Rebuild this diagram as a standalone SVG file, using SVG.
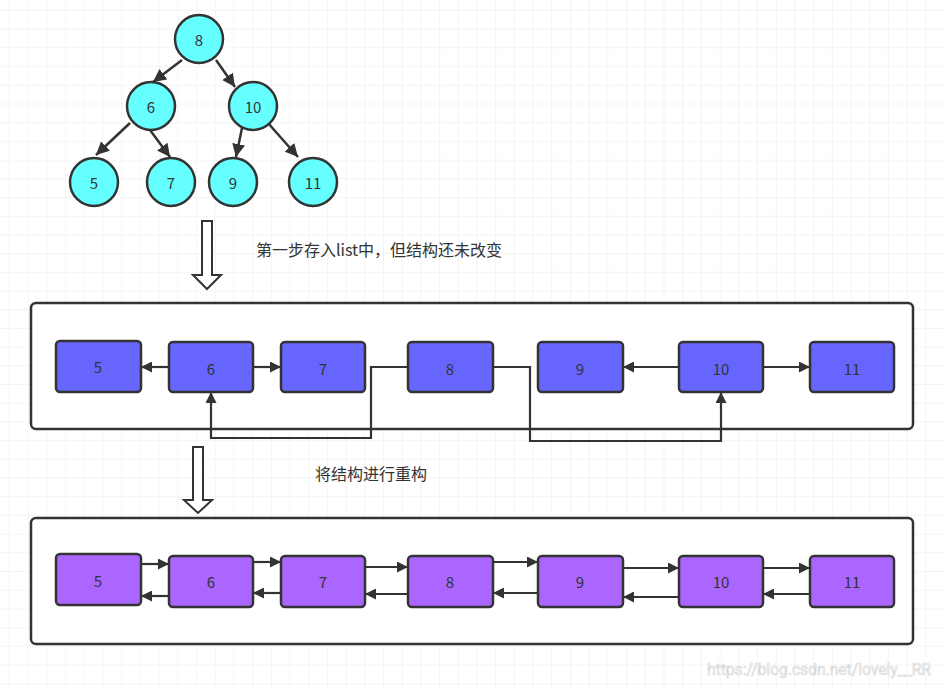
<svg xmlns="http://www.w3.org/2000/svg" width="944" height="689" viewBox="0 0 944 689">
<defs>
<pattern id="grid" x="9" y="10" width="18.7" height="18.7" patternUnits="userSpaceOnUse">
<path d="M0,0 H18.7 M0,0 V18.7" fill="none" stroke="#e9e9e9" stroke-width="1"/>
</pattern>
<marker id="ah" viewBox="0 0 10 10" refX="10" refY="5" markerWidth="12" markerHeight="11" markerUnits="userSpaceOnUse" orient="auto">
<path d="M0,0 L10,5 L0,10 z" fill="#333"/>
</marker>
<marker id="ahb" viewBox="0 0 10 10" refX="10" refY="5" markerWidth="13" markerHeight="13" markerUnits="userSpaceOnUse" orient="auto">
<path d="M0,0 L10,5 L0,10 z" fill="#333"/>
</marker>
</defs>
<style>
.t{font-family:"Noto Sans CJK SC","Noto Sans",sans-serif;fill:#333;}
.n{font-size:15px;text-anchor:middle;dominant-baseline:central;}
.c{fill:#66FFFF;stroke:#333;stroke-width:2.5;}
.b1{fill:#6666FF;stroke:#333;stroke-width:2.5;}
.b2{fill:#AB66FF;stroke:#333;stroke-width:2.5;}
.cont{fill:#fff;stroke:#333;stroke-width:2.5;}
.e{fill:none;stroke:#333;stroke-width:2.5;marker-end:url(#ahb);}
.l{fill:none;stroke:#333;stroke-width:2.2;marker-end:url(#ah);}
.blk{fill:#fff;stroke:#333;stroke-width:2;}
</style>
<rect width="944" height="689" fill="#fff"/>
<rect width="944" height="689" fill="url(#grid)"/>

<!-- containers -->
<rect id="container1" class="cont" x="31" y="303" width="882" height="126" rx="5"/>
<rect id="container2" class="cont" x="31" y="518" width="882" height="126" rx="5"/>

<!-- block arrows and labels -->
<g id="step1">
<path class="blk" d="M202,221 L212,221 L212,275 L221,275 L207,289 L193,275 L202,275 Z"/>
<text class="t" x="256" y="256" font-size="16">第一步存入list中，但结构还未改变</text>
</g>
<g id="step2">
<path class="blk" d="M193,447 L203,447 L203,500 L212,500 L198,513 L184,500 L193,500 Z"/>
<text class="t" x="315" y="480" font-size="16">将结构进行重构</text>
</g>

<!-- connectors -->
<g id="connectors">
<!-- tree -->
<line class="e" x1="182" y1="60" x2="153" y2="82"/>
<line class="e" x1="216" y1="60" x2="235" y2="87"/>
<line class="e" x1="130" y1="123" x2="96" y2="155"/>
<line class="e" x1="150" y1="130" x2="170" y2="157"/>
<line class="e" x1="242" y1="128" x2="236" y2="157"/>
<line class="e" x1="268" y1="123" x2="298" y2="157"/>
<!-- row 1 -->
<line class="l" x1="169" y1="367" x2="141" y2="367"/>
<line class="l" x1="253" y1="367" x2="281" y2="367"/>
<line class="l" x1="679" y1="367" x2="623" y2="367"/>
<line class="l" x1="763" y1="367" x2="810" y2="367"/>
<polyline class="l" points="408,367 371,367 371,438 211,438 211,392"/>
<polyline class="l" points="493,367 530,367 530,441 721,441 721,392"/>
<!-- row 2 -->
<line class="l" x1="141" y1="564" x2="169" y2="564"/>
<line class="l" x1="169" y1="596" x2="141" y2="596"/>
<line class="l" x1="253" y1="562" x2="281" y2="562"/>
<line class="l" x1="281" y1="593" x2="253" y2="593"/>
<line class="l" x1="365" y1="567" x2="408" y2="567"/>
<line class="l" x1="408" y1="594" x2="365" y2="594"/>
<line class="l" x1="493" y1="562" x2="538" y2="562"/>
<line class="l" x1="538" y1="593" x2="493" y2="593"/>
<line class="l" x1="623" y1="568" x2="679" y2="568"/>
<line class="l" x1="679" y1="597" x2="623" y2="597"/>
<line class="l" x1="763" y1="568" x2="810" y2="568"/>
<line class="l" x1="810" y1="594" x2="763" y2="594"/>
</g>

<!-- tree nodes -->
<g id="t8"><circle class="c" cx="199" cy="39" r="24"/><text class="t n" x="199" y="39">8</text></g>
<g id="t6"><circle class="c" cx="151" cy="106" r="24"/><text class="t n" x="151" y="106">6</text></g>
<g id="t10"><circle class="c" cx="253" cy="106" r="24"/><text class="t n" x="253" y="106">10</text></g>
<g id="t5"><circle class="c" cx="94" cy="182" r="24"/><text class="t n" x="94" y="182">5</text></g>
<g id="t7"><circle class="c" cx="171" cy="182" r="24"/><text class="t n" x="171" y="182">7</text></g>
<g id="t9"><circle class="c" cx="233" cy="182" r="24"/><text class="t n" x="233" y="182">9</text></g>
<g id="t11"><circle class="c" cx="313" cy="182" r="24"/><text class="t n" x="313" y="182">11</text></g>

<!-- row 1 nodes -->
<g id="a5"><rect class="b1" x="56" y="341" width="85" height="51" rx="4"/><text class="t n" x="98" y="366">5</text></g>
<g id="a6"><rect class="b1" x="169" y="342" width="84" height="50" rx="4"/><text class="t n" x="211" y="368">6</text></g>
<g id="a7"><rect class="b1" x="281" y="342" width="84" height="50" rx="4"/><text class="t n" x="323" y="368">7</text></g>
<g id="a8"><rect class="b1" x="408" y="342" width="85" height="50" rx="4"/><text class="t n" x="450" y="368">8</text></g>
<g id="a9"><rect class="b1" x="538" y="342" width="85" height="50" rx="4"/><text class="t n" x="580" y="368">9</text></g>
<g id="a10"><rect class="b1" x="679" y="342" width="84" height="50" rx="4"/><text class="t n" x="721" y="368">10</text></g>
<g id="a11"><rect class="b1" x="810" y="342" width="84" height="50" rx="4"/><text class="t n" x="852" y="368">11</text></g>

<!-- row 2 nodes -->
<g id="b5"><rect class="b2" x="56" y="554" width="85" height="51" rx="4"/><text class="t n" x="98" y="580">5</text></g>
<g id="b6"><rect class="b2" x="169" y="556" width="84" height="51" rx="4"/><text class="t n" x="211" y="581">6</text></g>
<g id="b7"><rect class="b2" x="281" y="556" width="84" height="51" rx="4"/><text class="t n" x="323" y="581">7</text></g>
<g id="b8"><rect class="b2" x="408" y="556" width="85" height="51" rx="4"/><text class="t n" x="450" y="581">8</text></g>
<g id="b9"><rect class="b2" x="538" y="556" width="85" height="51" rx="4"/><text class="t n" x="580" y="581">9</text></g>
<g id="b10"><rect class="b2" x="679" y="556" width="84" height="51" rx="4"/><text class="t n" x="721" y="581">10</text></g>
<g id="b11"><rect class="b2" x="810" y="556" width="84" height="51" rx="4"/><text class="t n" x="852" y="581">11</text></g>

<text x="707" y="675" font-family="Roboto,'Noto Sans',sans-serif" font-size="16" textLength="224" lengthAdjust="spacingAndGlyphs" fill="#f4f4f4" stroke="#d6d6d6" stroke-width="0.6">https://blog.csdn.net/lovely__RR</text>
</svg>
